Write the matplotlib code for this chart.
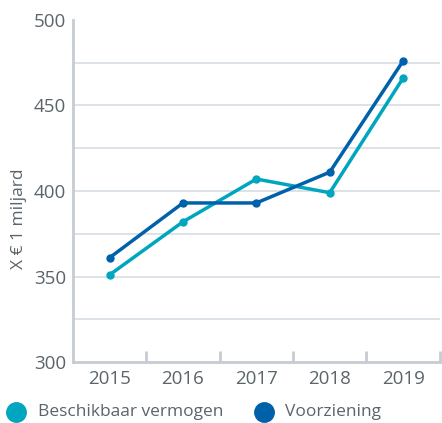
import matplotlib.pyplot as plt
from matplotlib.lines import Line2D

years = ['2015', '2016', '2017', '2018', '2019']
beschikbaar = [351, 382, 407, 399, 466]
voorziening = [361, 393, 393, 411, 476]

c_light = '#00a6bf'
c_dark = '#0061ab'
c_text = '#5a646b'
c_grid = '#d6dde3'
c_axis = '#c5ccd3'

plt.rcParams['font.family'] = ['Open Sans', 'DejaVu Sans']

W, H = 442, 423
fig = plt.figure(figsize=(W / 100, H / 100), dpi=100)
ax = fig.add_axes([0.165, 0.144, 0.83, 0.809])

x = list(range(len(years)))
ax.plot(x, beschikbaar, color=c_light, lw=2.5, marker='o', ms=5, zorder=3)
ax.plot(x, voorziening, color=c_dark, lw=2.5, marker='o', ms=5, zorder=4)

ax.set_xlim(-0.5, len(years) - 0.5)
ax.set_ylim(300, 500)
ax.set_yticks([300, 350, 400, 450, 500])
ax.set_xticks(x)
ax.set_xticklabels(years)
ax.set_xticks([i + 0.5 for i in x], minor=True)

for v in [325, 350, 375, 400, 425, 450, 475]:
    ax.axhline(v, color=c_grid, lw=1.2, zorder=1)

for s in ['top', 'right']:
    ax.spines[s].set_visible(False)
for s in ['left', 'bottom']:
    ax.spines[s].set_color(c_axis)
    ax.spines[s].set_linewidth(2)

ax.tick_params(axis='y', which='both', length=0, labelsize=13.5, labelcolor=c_text, pad=5)
ax.tick_params(axis='x', which='major', length=0, labelsize=13.5, labelcolor=c_text, pad=6)
ax.tick_params(axis='x', which='minor', direction='in', length=8, width=2, color=c_axis)

ax.set_ylabel('X € 1 miljard', fontsize=12.5, color=c_text)
ax.yaxis.set_label_coords(-0.125, 0.42)

# legend, placed by hand
legend_items = [('Beschikbaar vermogen', c_light, 16, 38),
                ('Voorziening', c_dark, 264, 285)]
ly = 1 - 412 / H
for label, col, cx, tx in legend_items:
    fig.add_artist(Line2D([cx / W], [ly], ls='none', marker='o', ms=14,
                          color=col, transform=fig.transFigure))
    fig.text(tx / W, ly, label, fontsize=12.5, color=c_text, va='center', ha='left')

fig.savefig('out.png', dpi=100)
